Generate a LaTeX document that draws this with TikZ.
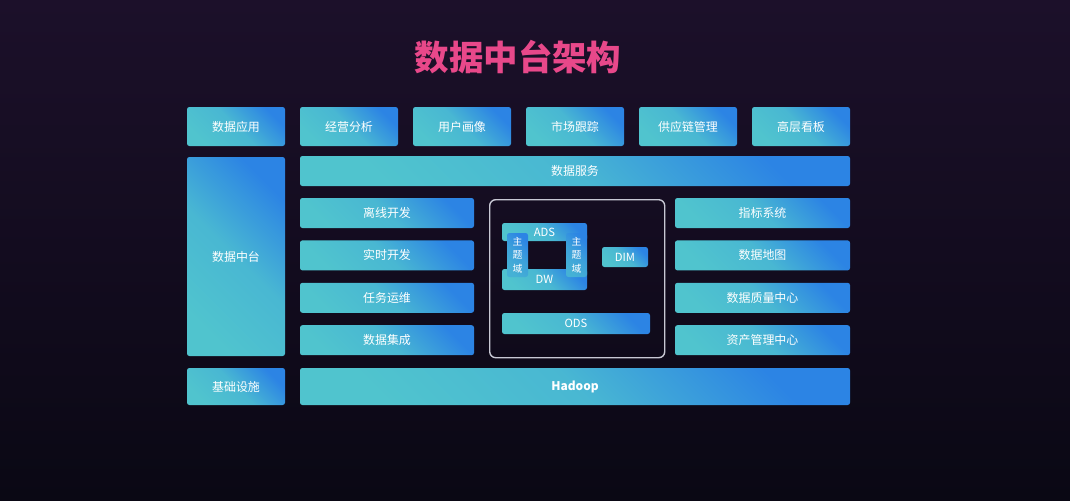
\documentclass[tikz,border=0pt]{standalone}
\usepackage{fontspec}
\setmainfont{Noto Sans CJK SC}
\usetikzlibrary{positioning}
\definecolor{bgtop}{RGB}{28,16,42}
\definecolor{bgbot}{RGB}{10,8,20}
\definecolor{boxteal}{RGB}{80,196,206}
\definecolor{boxblue}{RGB}{44,132,228}
\definecolor{titlepink}{RGB}{232,72,138}
\definecolor{framegray}{RGB}{200,200,212}
\tikzstyle{blk}=[%
      rectangle, rounded corners=0.6mm, bottom color=boxteal, top color=boxblue, middle color=boxteal!80!boxblue,
      shading angle=-45, text=white, inner sep=0pt, outer sep=0pt, font=\fontsize{8.5}{10}\selectfont
]
\tikzstyle{cell}=[%
      blk, minimum width=24.5mm, minimum height=9.75mm
]
\tikzstyle{lane}=[%
      blk, minimum width=43.5mm, minimum height=7.5mm
]
\tikzstyle{layer}=[%
      blk, font=\fontsize{8}{10}\selectfont
]
\tikzstyle{side}=[%
      blk, bottom color=boxteal!70!boxblue, top color=boxblue, middle color=boxteal!45!boxblue, shading angle=-45,
      align=center, minimum width=5.25mm, minimum height=11mm, font=\fontsize{7}{9.6}\selectfont
]

\begin{document}
\begin{tikzpicture}[x=1mm, y=1mm]
    \fill[top color=bgtop, bottom color=bgbot] (0,0) rectangle (267.5,-125);
    \useasboundingbox (0,0) rectangle (267.5,-125);

    \node[text=titlepink, font=\bfseries\fontsize{24.5}{28}\selectfont] (title) at (129.5,-14.25) {数据中台架构};

    \node[cell, anchor=north west] (app)    at (46.75,-26.75) {数据应用};
    \node[cell] (biz)    [right = 3.75mm of app]  {经营分析};
    \node[cell] (user)   [right = 3.75mm of biz]  {用户画像};
    \node[cell] (market) [right = 3.75mm of user] {市场跟踪};
    \node[cell] (supply) [right = 3.75mm of market] {供应链管理};
    \node[cell] (board)  [right = 3.75mm of supply] {高层看板};

    \node[blk, anchor=north west, minimum width=137.5mm, minimum height=7.5mm] (service) at (75,-39) {数据服务};
    \node[blk, anchor=north west, minimum width=24.5mm, minimum height=49.75mm] (hub) at (46.75,-39.25) {数据中台};

    \node[lane, anchor=north west] (offline) at (75,-49.5) {离线开发};
    \node[lane] (realtime) [below = 3.1mm of offline]  {实时开发};
    \node[lane] (ops)      [below = 3.1mm of realtime] {任务运维};
    \node[lane] (integ)    [below = 3.1mm of ops]      {数据集成};

    \node[lane, anchor=north west, minimum width=43.75mm] (metric) at (168.75,-49.5) {指标系统};
    \node[lane, minimum width=43.75mm] (map)     [below = 3.1mm of metric]  {数据地图};
    \node[lane, minimum width=43.75mm] (quality) [below = 3.1mm of map]     {数据质量中心};
    \node[lane, minimum width=43.75mm] (asset)   [below = 3.1mm of quality] {资产管理中心};

    \node[draw=framegray, line width=0.35mm, rounded corners=1.5mm, inner sep=0pt, anchor=north west,
          minimum width=43.75mm, minimum height=39.5mm] (core) at (122.25,-49.75) {};
    \node[layer, anchor=north west, minimum width=21.25mm, minimum height=4.5mm]  (ads) at (125.5,-55.75) {ADS};
    \node[layer, anchor=north west, minimum width=21.25mm, minimum height=5.25mm] (dw)  at (125.5,-67.25) {DW};
    \node[side, anchor=north west] (domleft)  at (126.75,-58.25) {主\\题\\域};
    \node[side, anchor=north east] (domright) at (146.75,-58.25) {主\\题\\域};
    \node[layer, anchor=north west, minimum width=11.5mm, minimum height=5mm]  (dim) at (150.5,-61.75) {DIM};
    \node[layer, anchor=north west, minimum width=37mm, minimum height=5.25mm] (ods) at (125.5,-78.25) {ODS};

    \node[blk, anchor=north west, minimum width=24.5mm, minimum height=9.25mm] (infra) at (46.75,-92) {基础设施};
    \node[blk, minimum width=137.5mm, minimum height=9.25mm, font=\bfseries\fontsize{8.5}{10}\selectfont] (hadoop) [right = 3.75mm of infra] {Hadoop};
\end{tikzpicture}
\end{document}
